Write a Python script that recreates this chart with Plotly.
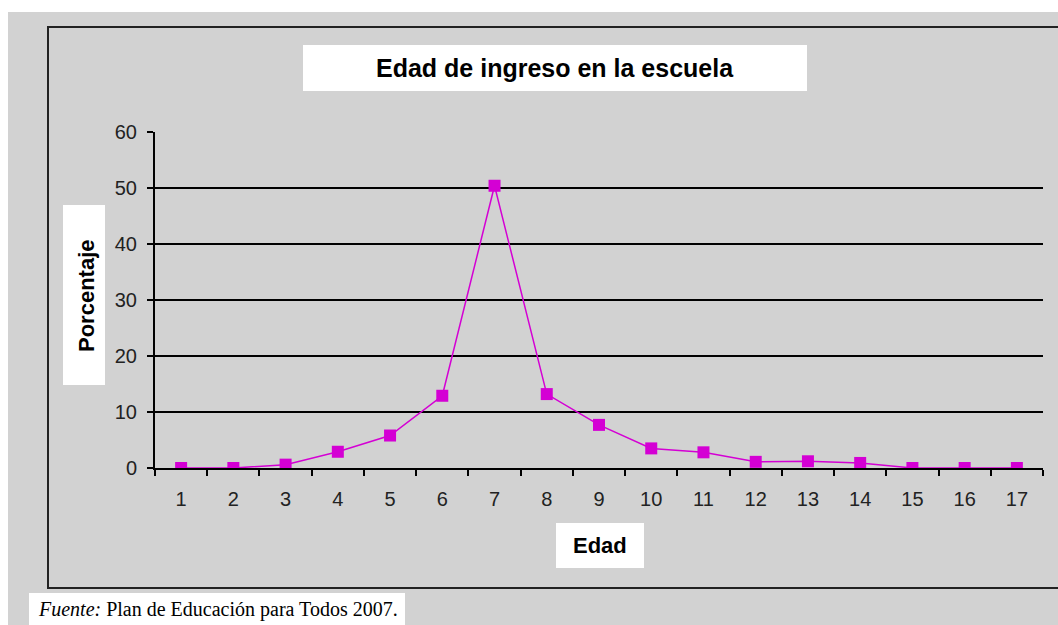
import plotly.graph_objects as go

ages = [str(i) for i in range(1, 18)]
percent = [0, 0, 0.6, 2.9, 5.8, 12.9, 50.4, 13.2, 7.7, 3.5, 2.8, 1.1, 1.2, 0.9, 0, 0, 0]
y_ticks = [0, 10, 20, 30, 40, 50, 60]

title_text = "Edad de ingreso en la escuela"
ytitle_text = "Porcentaje"
xtitle_text = "Edad"
source_text = "<i>Fuente:</i> Plan de Educación para Todos 2007."

W, H = 1058, 625
L, R, T, B = 155, 1043, 132, 468
PW, PH = R - L, B - T


def px(x):
    return (x - L) / PW


def py(y):
    return (B - y) / PH


GRAY = "#D2D2D2"
MAG = "#D400D4"

fig = go.Figure()
fig.add_trace(go.Scatter(
    x=ages, y=percent, mode="lines+markers",
    line=dict(color=MAG, width=1.5),
    marker=dict(symbol="square", size=12, color=MAG),
    hoverinfo="x+y", showlegend=False,
))

shapes = [
    dict(type="rect", xref="paper", yref="paper", x0=px(8), x1=px(1070), y0=py(12), y1=py(640),
         fillcolor=GRAY, line=dict(width=0), layer="below"),
    dict(type="rect", xref="paper", yref="paper", x0=px(48), x1=px(1075), y0=py(27), y1=py(588),
         fillcolor="rgba(0,0,0,0)", line=dict(color="#222222", width=2), layer="below"),
    dict(type="rect", xref="paper", yref="paper", x0=px(303), x1=px(807), y0=py(45), y1=py(91),
         fillcolor="white", line=dict(width=0), layer="below"),
    dict(type="rect", xref="paper", yref="paper", x0=px(63), x1=px(105), y0=py(205), y1=py(385),
         fillcolor="white", line=dict(width=0), layer="below"),
    dict(type="rect", xref="paper", yref="paper", x0=px(556), x1=px(644), y0=py(523), y1=py(568),
         fillcolor="white", line=dict(width=0), layer="below"),
    dict(type="rect", xref="paper", yref="paper", x0=px(29), x1=px(405), y0=py(593), y1=py(640),
         fillcolor="white", line=dict(width=0), layer="below"),
]

annotations = [
    dict(text="<b>" + title_text + "</b>", xref="paper", yref="paper", x=px(555), y=py(68),
         xanchor="center", yanchor="middle", showarrow=False,
         font=dict(family="Liberation Sans, Arial", size=25, color="black")),
    dict(text="<b>" + ytitle_text + "</b>", xref="paper", yref="paper", x=px(86), y=py(296),
         xanchor="center", yanchor="middle", showarrow=False, textangle=-90,
         font=dict(family="Liberation Sans, Arial", size=22, color="black")),
    dict(text="<b>" + xtitle_text + "</b>", xref="paper", yref="paper", x=px(600), y=py(545),
         xanchor="center", yanchor="middle", showarrow=False,
         font=dict(family="Liberation Sans, Arial", size=22, color="black")),
    dict(text=source_text, xref="paper", yref="paper", x=px(36), y=py(609),
         xanchor="left", yanchor="middle", showarrow=False,
         font=dict(family="Liberation Serif, Times New Roman", size=20, color="black")),
]

fig.update_layout(
    width=W, height=H, autosize=False,
    margin=dict(l=L, r=W - R, t=T, b=H - B, pad=0),
    paper_bgcolor="white", plot_bgcolor=GRAY,
    shapes=shapes, annotations=annotations,
    xaxis=dict(type="category", range=[-0.5, len(ages) - 0.5], tickson="boundaries",
               ticks="outside", ticklen=6,
               tickwidth=2, tickcolor="black", showline=True, linecolor="black", linewidth=2,
               showgrid=False, ticklabelstandoff=12,
               tickfont=dict(family="Liberation Sans, Arial", size=20, color="#222222")),
    yaxis=dict(range=[0, 60], tickvals=y_ticks, ticks="outside", ticklen=6, tickwidth=2,
               tickcolor="black", showline=True, linecolor="black", linewidth=2,
               showgrid=True, gridcolor="black", gridwidth=1.5, zeroline=False,
               ticklabelstandoff=6,
               tickfont=dict(family="Liberation Sans, Arial", size=20, color="#222222")),
)

fig.write_html(
    "out.html",
    config={"responsive": False, "displayModeBar": False},
    post_script="document.body.style.margin='0px';document.body.style.overflow='hidden';",
)
